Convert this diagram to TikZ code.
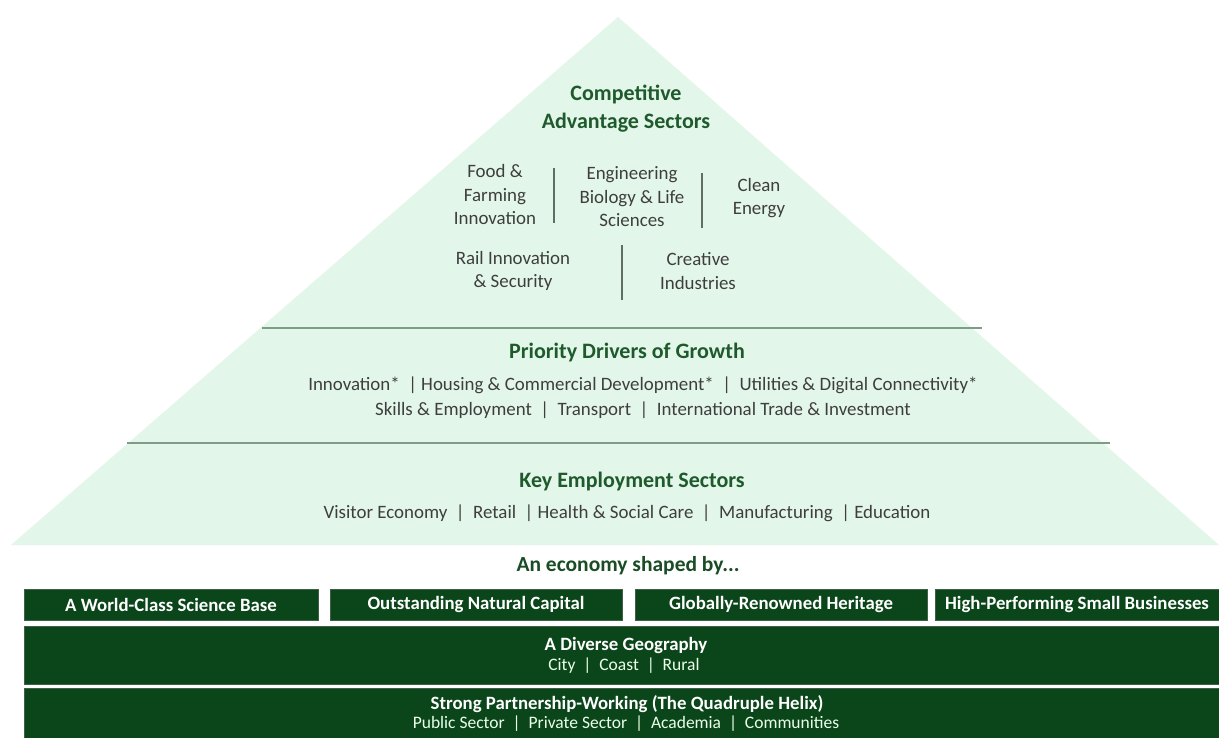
\documentclass[tikz,border=0pt]{standalone}
\usepackage{fontspec}
\setmainfont{Carlito}
\definecolor{mint}{HTML}{E3F6EA}
\definecolor{headgreen}{HTML}{1F5A2C}
\definecolor{bodygray}{HTML}{3E3E3E}
\definecolor{bargreen}{HTML}{0B461A}
\definecolor{rulegreen}{HTML}{7E9C86}
\definecolor{sepgray}{HTML}{5F6F63}
\tikzset{
  head/.style={font=\fontsize{22}{28}\selectfont\bfseries, text=headgreen, align=center, inner sep=0pt},
  body/.style={font=\fontsize{18.9}{23.5}\selectfont, text=bodygray, align=center, inner sep=0pt},
  sep/.style={draw=sepgray, line width=1.4pt},
  tier/.style={draw=rulegreen, line width=2pt},
  band/.style={fill=bargreen, draw=bargreen!55!gray, line width=0.8pt},
  bandhead/.style={font=\fontsize{18.8}{21}\selectfont\bfseries, text=white, inner sep=0pt},
  bandtext/.style={font=\fontsize{17.5}{21}\selectfont, text=white!92!green, inner sep=0pt},
}
\begin{document}
\begin{tikzpicture}[x=1pt,y=-1pt]
\useasboundingbox (0,0) rectangle (1219,738);
\fill[white] (0,0) rectangle (1219,738);

% pyramid body
\coordinate (apex) at (618,17);
\coordinate (baseL) at (11,545);
\coordinate (baseR) at (1219,545);
\fill[mint] (apex) -- (baseR) -- (baseL) -- cycle;

% tier dividers
\coordinate (t1L) at (262,328);
\coordinate (t1R) at (982,328);
\coordinate (t2L) at (127,443);
\coordinate (t2R) at (1110,443);
\draw[tier] (t1L) -- (t1R);
\draw[tier] (t2L) -- (t2R);

% top tier
\node[head] (cas) at (626,109) {Competitive\\Advantage Sectors};
\node[body] (food) at (495,195) {Food \&\\Farming\\Innovation};
\node[body] (eng) at (632,197) {Engineering\\Biology \& Life\\Sciences};
\node[body] (clean) at (759,198) {Clean\\Energy};
\node[body] (rail) at (513,271) {Rail Innovation\\\& Security};
\node[body] (creative) at (698,271) {Creative\\Industries};
\coordinate (s1a) at (554,168); \coordinate (s1b) at (554,223);
\coordinate (s2a) at (702,173); \coordinate (s2b) at (702,228);
\coordinate (s3a) at (622,245); \coordinate (s3b) at (622,300);
\draw[sep] (s1a) -- (s1b);
\draw[sep] (s2a) -- (s2b);
\draw[sep] (s3a) -- (s3b);

% middle tier
\node[head] (pdg) at (627,353) {Priority Drivers of Growth};
\node[body] (pdg1) at (643,385) {Innovation*\ \ |\ Housing \& Commercial Development*\ \ |\ \ Utilities \& Digital Connectivity*};
\node[body] (pdg2) at (643,410) {Skills \& Employment\ \ |\ \ Transport\ \ |\ \ International Trade \& Investment};

% bottom tier
\node[head] (kes) at (632,482) {Key Employment Sectors};
\node[body] (kes1) at (627,513) {Visitor Economy\ \ |\ \ Retail\ \ |\ Health \& Social Care\ \ |\ \ Manufacturing\ \ |\ Education};

% foundations
\node[head, font=\fontsize{21.5}{24}\selectfont\bfseries, text=headgreen!85!black] (shaped) at (628,566) {An economy shaped by...};

\path[band] (24,589) rectangle (318,620);
\path[band] (330,589) rectangle (622,620);
\path[band] (635,589) rectangle (927,620);
\path[band] (935,589) rectangle (1221,620);
\node[bandhead] (science) at (171,604.5) {A World-Class Science Base};
\node[bandhead] (natural) at (476,604.5) {Outstanding Natural Capital};
\node[bandhead] (heritage) at (781,604.5) {Globally-Renowned Heritage};
\node[bandhead] (smallbiz) at (1077,604.5) {High-Performing Small Businesses};

\path[band] (24,626) rectangle (1221,684);
\node[bandhead] (geo) at (626,645) {A Diverse Geography};
\node[bandtext] (geo1) at (624,666) {City\ \ |\ \ Coast\ \ |\ \ Rural};

\path[band] (24,688) rectangle (1221,740);
\node[bandhead] (helix) at (627,704) {Strong Partnership-Working (The Quadruple Helix)};
\node[bandtext] (helix1) at (626,724) {Public Sector\ \ |\ \ Private Sector\ \ |\ \ Academia\ \ |\ \ Communities};
\end{tikzpicture}
\end{document}
